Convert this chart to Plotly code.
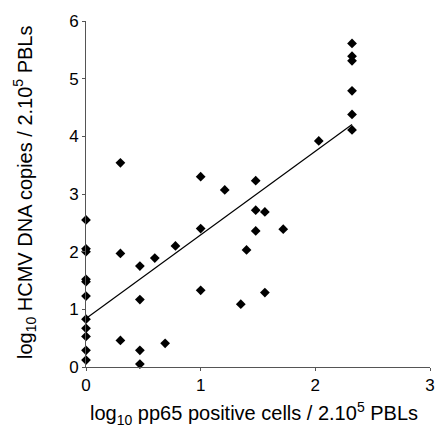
import plotly.graph_objects as go

# Data: log10 pp65 positive cells (x) vs log10 HCMV DNA copies (y)
pp65_log = [0, 0, 0, 0, 0, 0, 0, 0, 0, 0, 0,
            0.30, 0.30, 0.30,
            0.47, 0.47, 0.47, 0.47,
            0.60, 0.69, 0.78,
            1.0, 1.0, 1.0,
            1.21, 1.35, 1.40, 1.48, 1.48, 1.48,
            1.56, 1.56, 1.72, 2.03,
            2.32, 2.32, 2.32, 2.32, 2.32, 2.32]
dna_log = [2.55, 2.05, 2.00, 1.52, 1.48, 1.23, 0.83, 0.67, 0.53, 0.29, 0.12,
           3.54, 1.97, 0.46,
           1.75, 1.17, 0.29, 0.05,
           1.89, 0.41, 2.10,
           3.30, 2.40, 1.33,
           3.07, 1.09, 2.03, 3.23, 2.72, 2.36,
           2.69, 1.29, 2.39, 3.92,
           5.61, 5.39, 5.31, 4.79, 4.38, 4.11]

# Regression line drawn on the chart
fit_intercept = 0.84
fit_slope = 1.45

x_ticks = [0, 1, 2, 3]
y_ticks = [0, 1, 2, 3, 4, 5, 6]

x_title = "log<sub>10</sub> pp65 positive cells / 2.10<sup>5</sup> PBLs"
y_title = "log<sub>10</sub> HCMV DNA copies / 2.10<sup>5</sup> PBLs"

x_line = [0, max(pp65_log)]
y_line = [fit_intercept + fit_slope * v for v in x_line]

font_family = "Liberation Sans, Arial, sans-serif"

fig = go.Figure()
fig.add_trace(go.Scatter(x=x_line, y=y_line, mode="lines",
                         line=dict(color="black", width=1.2),
                         showlegend=False, hoverinfo="skip"))
fig.add_trace(go.Scatter(x=pp65_log, y=dna_log, mode="markers",
                         marker=dict(symbol="diamond", size=7.5, color="black"),
                         cliponaxis=False, showlegend=False))

axis_common = dict(showgrid=False, zeroline=False, showline=True,
                   linecolor="#555555", linewidth=1,
                   ticks="outside", ticklen=3, tickcolor="#555555",
                   tickfont=dict(size=17), automargin=False,
                   ticklabeloverflow="allow")

fig.update_layout(
    width=437, height=433,
    margin=dict(l=86, r=7, t=21, b=66),
    plot_bgcolor="white", paper_bgcolor="white",
    font=dict(family=font_family, size=17, color="black"),
    xaxis=dict(range=[0, 3], tickvals=x_ticks, **axis_common),
    yaxis=dict(range=[0, 6], tickvals=y_ticks, **axis_common),
    annotations=[
        dict(text=x_title, xref="paper", yref="paper", x=0.488, y=-0.135,
             xanchor="center", yanchor="middle", showarrow=False,
             font=dict(size=20)),
        dict(text=y_title, xref="paper", yref="paper", x=-0.178, y=0.505,
             xanchor="center", yanchor="middle", showarrow=False,
             textangle=-90, font=dict(size=20)),
    ],
)

fig.write_html(
    "out.html",
    config={"displayModeBar": False},
    post_script="document.body.style.margin='0';"
                "document.body.style.overflow='hidden';"
                "document.documentElement.style.overflow='hidden';",
)
